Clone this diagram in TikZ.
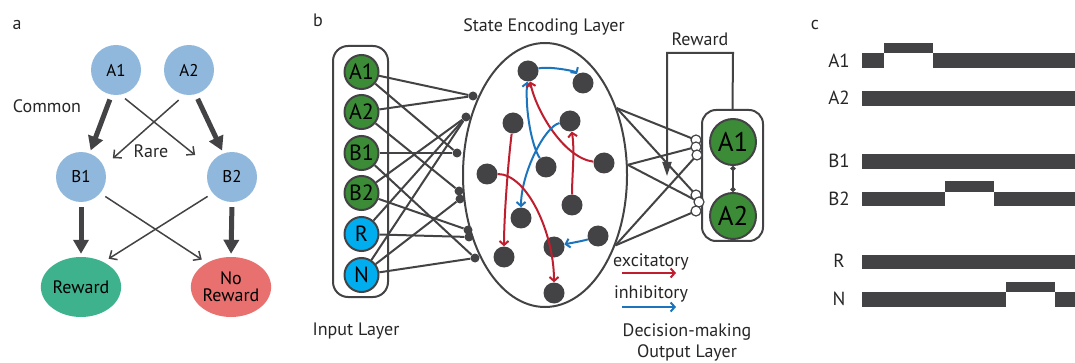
\documentclass[tikz,border=0pt]{standalone}
\usepackage{fontspec}
\setmainfont{PT Sans}
\usetikzlibrary{shapes.geometric,arrows.meta}
\definecolor{dg}{HTML}{434345}
\definecolor{lblue}{HTML}{8FB8DC}
\definecolor{rewgreen}{HTML}{3DB28D}
\definecolor{norred}{HTML}{E8706F}
\definecolor{ingreen}{HTML}{3C8C37}
\definecolor{incyan}{HTML}{00AEEF}
\definecolor{exred}{HTML}{BE1E2D}
\definecolor{inblue}{HTML}{1C75BC}
\begin{document}
\begin{tikzpicture}[x=1pt,y=-1pt,
  fs/.style={font=\fontsize{#1}{#1}\selectfont},
  lbl/.style={anchor=base, inner sep=0pt, text=black!85, fs=18},
  anode/.style={circle, fill=lblue, minimum size=50pt, inner sep=0pt, fs=17},
  thickarr/.style={draw=dg, line width=5pt, -{Triangle[length=14pt,width=15pt]}, shorten <=5pt, shorten >=3pt},
  thinarr/.style={draw=dg, line width=1.5pt, -{Straight Barb[length=6pt,width=11pt]}},
  inbox/.style={draw=dg, line width=2pt, rounded corners=15pt, minimum width=55pt, minimum height=251pt, inner sep=0pt},
  incirc/.style={circle, draw=dg, line width=2pt, minimum size=34pt, inner sep=0pt, fs=22},
  hdot/.style={circle, fill=dg, minimum size=21pt, inner sep=0pt},
  sdot/.style={circle, fill=dg, minimum size=9pt, inner sep=0pt},
  odot/.style={circle, draw=dg, fill=white, line width=1.2pt, minimum size=10pt, inner sep=0pt},
  ocirc/.style={circle, draw=dg, line width=2pt, fill=ingreen, minimum size=46pt, inner sep=0pt, fs=27},
  conn/.style={draw=dg, line width=2pt},
  exarr/.style={draw=exred, line width=2pt, -{Straight Barb[length=4pt,width=9pt]}},
  inarr/.style={draw=inblue, line width=2pt, -{Straight Barb[length=4pt,width=9pt]}}
]
\useasboundingbox (0,0) rectangle (1075,363);

%% ---------------- panel a ----------------
\node[lbl] (la) at (17,30) {a};
\node[anode] (a1) at (116,70) {A1};
\node[anode] (a2) at (189,70) {A2};
\node[anode] (b1) at (81,177) {B1};
\node[anode] (b2) at (232,177) {B2};
\node[ellipse, fill=rewgreen, minimum width=66pt, minimum height=60pt, inner sep=0pt, fs=18] (rew) at (81,287) {Reward};
\node[ellipse, fill=norred, minimum width=72pt, minimum height=60pt, inner sep=0pt, fs=18, align=center] (nor) at (231,287) {No\\[-1pt]Reward};
\node[lbl] (common) at (47,113) {Common};
\node[lbl] (rare) at (151,158) {Rare};

\draw[thickarr] (a1.260) -- (b1.70);
\draw[thickarr] (a2.285) -- (b2.110);
\draw[thickarr] (b1.south) -- (rew.north);
\draw[thickarr] (b2.south) -- (nor.north);
\draw[thinarr, shorten <=6pt, shorten >=18pt] (a1.-80) -- (b2.155);
\draw[thinarr, shorten <=8pt, shorten >=12pt] (a2.-100) -- (b1.25);
\draw[thinarr, shorten <=6pt, shorten >=6pt] (b1.-40) -- (nor.135);
\draw[thinarr, shorten <=6pt, shorten >=6pt] (b2.-140) -- (rew.48);

%% ---------------- panel b ----------------
\node[lbl] (lb) at (318,27) {b};
\node[lbl] (sel) at (544,32) {State Encoding Layer};
\node[lbl] (inl) at (356,335) {Input Layer};
\node[lbl] (rwl) at (700,46) {Reward};
\node[lbl] (exl) at (651,266) {excitatory};
\node[lbl] (ihl) at (651,298) {inhibitory};
\node[lbl] (dml) at (687,336) {Decision-making};
\node[lbl] (oll) at (687,357) {Output Layer};

% input layer
\node[inbox] (inb) at (360.5,171.5) {};
\node[ellipse, draw=dg, line width=2pt, minimum width=164pt, minimum height=264pt, inner sep=0pt] (ell) at (545,175) {};

\node[sdot] (t1) at (473,96) {};
\node[sdot] (t2) at (466,117) {};
\node[sdot] (t3) at (457,153) {};
\node[sdot] (t4) at (459,191) {};
\node[sdot] (t5) at (460,199) {};
\node[sdot] (t6) at (468,230) {};
\node[sdot] (t7) at (469,237) {};
\node[sdot] (t8) at (475,258) {};

\node[incirc, fill=ingreen] (iA1) at (361.5,72) {A1};
\node[incirc, fill=ingreen] (iA2) at (361.5,112) {A2};
\node[incirc, fill=ingreen] (iB1) at (361.5,153) {B1};
\node[incirc, fill=ingreen] (iB2) at (361.5,193) {B2};
\node[incirc, fill=incyan] (iR) at (361.5,234) {R};
\node[incirc, fill=incyan] (iN) at (361.5,275) {N};

\draw[conn] (iA1) -- (t1);
\draw[conn] (iA1) -- (t3);
\draw[conn] (iA2) -- (t1);
\draw[conn] (iA2) -- (t4);
\draw[conn] (iB1) -- (t3);
\draw[conn] (iB1) -- (t8);
\draw[conn] (iB2) -- (t2);
\draw[conn] (iB2) -- (t6);
\draw[conn] (iR) -- (t2);
\draw[conn] (iR) -- (t7);
\draw[conn] (iN) -- (t2);
\draw[conn] (iN) -- (t5);
\draw[conn] (iN) -- (t8);

% state encoding nodes
\node[hdot] (h1) at (528,71) {};
\node[hdot] (h2) at (583,83) {};
\node[hdot] (h3) at (513,123) {};
\node[hdot] (h4) at (570,121) {};
\node[hdot] (h5) at (604,163) {};
\node[hdot] (h6) at (546,167) {};
\node[hdot] (h7) at (487,174) {};
\node[hdot] (h8) at (572,205) {};
\node[hdot] (h9) at (521,218) {};
\node[hdot] (h10) at (598,236) {};
\node[hdot] (h11) at (554,247) {};
\node[hdot] (h12) at (504,257) {};
\node[hdot] (h13) at (554,293) {};

\draw[inarr] (h1) .. controls +(20,-5) and +(-8,-12) .. (h2);
\draw[inarr] (h6) .. controls +(-14,-20) and +(-3,40) .. (h1);
\draw[exarr] (h5) .. controls +(-40,-5) and +(8,40) .. (h1);
\draw[inarr] (h4) .. controls +(-25,5) and +(0,-45) .. (h9);
\draw[exarr] (h8) .. controls +(0,-30) and +(5,30) .. (h4);
\draw[exarr] (h3) .. controls +(-5,40) and +(0,-40) .. (h12);
\draw[exarr] (h7) .. controls +(40,0) and +(0,-60) .. (h13);
\draw[inarr] (h10) .. controls +(-15,5) and +(12,-3) .. (h11);

% legend arrows
\coordinate (exs) at (622,273); \coordinate (exe) at (676,273);
\coordinate (ins) at (622,307); \coordinate (ine) at (676,307);
\draw[exarr] (exs) -- (exe);
\draw[inarr] (ins) -- (ine);

% output layer
\node[draw=dg, line width=2pt, rounded corners=14pt, minimum width=61pt, minimum height=131pt, inner sep=0pt] (obox) at (732.5,175.5) {};
\node[ocirc] (oA1) at (733,142) {A1};
\node[ocirc] (oA2) at (733,216) {A2};
\draw[conn, {Circle[length=5pt]}-{Circle[length=5pt]}] (oA1) -- (oA2);

\coordinate (o1) at (696,140);
\coordinate (o2) at (696,147);
\coordinate (o3) at (697,155);
\coordinate (o4) at (696,195);
\coordinate (o5) at (699,202);
\coordinate (o6) at (696,211);

\draw[conn] (ell.43) -- (o1);
\draw[conn] (ell.43) -- (o4);
\draw[conn] (ell.7) -- (o2);
\draw[conn] (ell.7) -- (o5);
\draw[conn] (ell.-45) -- (o3);
\draw[conn] (ell.-45) -- (o6);

\node[odot] (od1) at (o1) {};
\node[odot] (od2) at (o2) {};
\node[odot] (od3) at (o3) {};
\node[odot] (od4) at (o4) {};
\node[odot] (od5) at (o5) {};
\node[odot] (od6) at (o6) {};

\coordinate (rc1) at (733,53);
\coordinate (rc2) at (667,53);
\coordinate (rtip) at (667,176);
\draw[conn, -{Triangle[length=14pt,width=9pt]}] (obox.north) -- (rc1) -- (rc2) -- (rtip);

%% ---------------- panel c ----------------
\node[lbl] (lc) at (815,30) {c};
\fill[dg] (862,53.3) rectangle (884,67.7);
\fill[dg] (884,43.3) rectangle (933,53.3);
\fill[dg] (933,53.3) rectangle (1075,67.7);
\fill[dg] (862,91) rectangle (1075,105.7);
\fill[dg] (862,154.3) rectangle (1075,168.7);
\fill[dg] (862,191.7) rectangle (945,206);
\fill[dg] (945,181) rectangle (994,191.7);
\fill[dg] (994,191.7) rectangle (1075,206);
\fill[dg] (862,255) rectangle (1075,269.3);
\fill[dg] (862,292.3) rectangle (1006,306.7);
\fill[dg] (1006,281.7) rectangle (1055,292.3);
\fill[dg] (1055,292.3) rectangle (1075,306.7);
\node[lbl, fs=19] (cA1) at (839,68) {A1};
\node[lbl, fs=19] (cA2) at (839,105) {A2};
\node[lbl, fs=19] (cB1) at (839,168) {B1};
\node[lbl, fs=19] (cB2) at (839,206) {B2};
\node[lbl, fs=19] (cR) at (839,267) {R};
\node[lbl, fs=19] (cN) at (839,305) {N};
\end{tikzpicture}
\end{document}
